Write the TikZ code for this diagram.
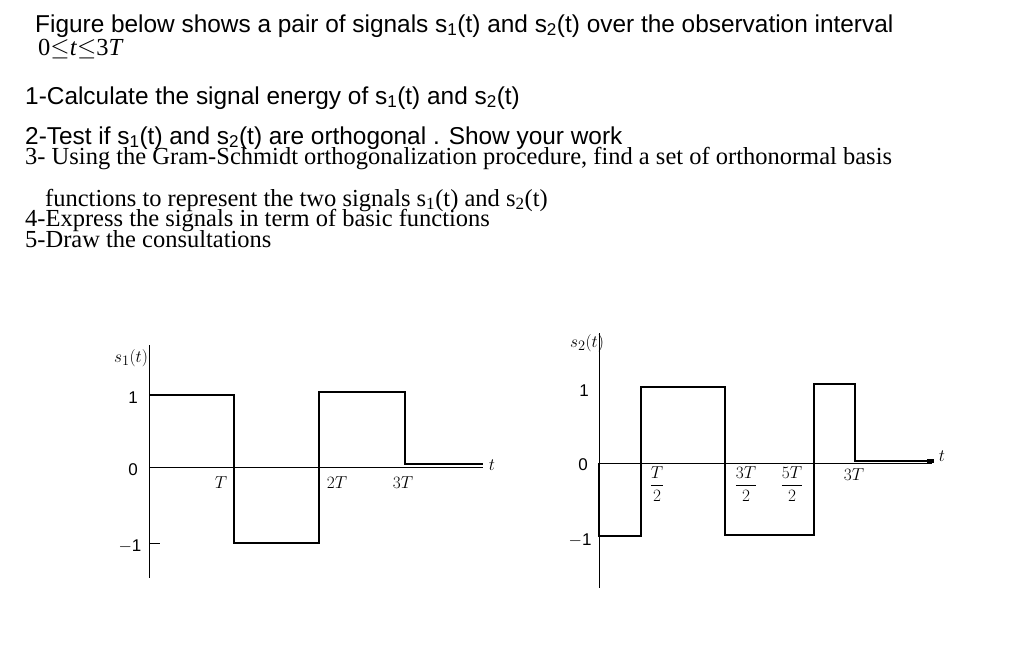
\documentclass[tikz,border=0pt]{standalone}
\usepackage{fontspec}
\usepackage{amsmath}
\setmainfont{Liberation Serif}
\newfontfamily\arial{Liberation Sans}
\begin{document}
\begin{tikzpicture}[x=1pt,y=-1pt,
  sig/.style={line width=2pt},
  ax/.style={line width=0.9pt},
  zl/.style={line width=0.8pt},
  lab/.style={font=\arial\fontsize{17}{17}\selectfont},
  tl/.style={font=\fontsize{19}{19}\selectfont},
  sl/.style={anchor=base west,font=\arial\fontsize{24.4}{21}\selectfont,inner sep=0},
  rl/.style={anchor=base west,font=\fontsize{24.5}{18}\selectfont,inner sep=0}]
\useasboundingbox (0,0) rectangle (1024,649);
% text
\node[sl] (l1) at (35,32) {Figure below shows a pair of signals s\textsubscript{1}(t) and s\textsubscript{2}(t) over the observation interval};
\node[rl] (l2) at (38,55) {0$\le$\textit{t}$\le$3\textit{T}};
\node[sl] (l3) at (25,104) {1-Calculate the signal energy of s\textsubscript{1}(t) and s\textsubscript{2}(t)};
\node[sl] (l4) at (25,144) {2-Test if s\textsubscript{1}(t) and s\textsubscript{2}(t) are orthogonal . Show your work};
\node[rl] (l5) at (25,164) {3- Using the Gram-Schmidt orthogonalization procedure, find a set of orthonormal basis};
\node[rl] (l6) at (45,206) {functions to represent the two signals s\textsubscript{1}(t) and s\textsubscript{2}(t)};
\node[rl] (l7) at (25,226) {4-Express the signals in term of basic functions};
\node[rl] (l8) at (25,247) {5-Draw the consultations};
% plot 1
\draw[ax] (149,345) -- (149,578);
\draw[zl] (149,467) -- (483,467);
\draw[ax] (149,543) -- (160,543);
\draw[sig] (149,395) -- (234,395) -- (234,543) -- (319,543) -- (319,392) -- (405,392) -- (405,464) -- (483,464);
\node[tl] (s1) at (131,358) {$s_1(t)$};
\node[lab] (a1) at (133,398) {1};
\node[lab] (a0) at (133,470) {0};
\node[lab] (am) at (130,546) {$-$1};
\node[tl] (tT) at (221,483) {$T$};
\node[tl] (t2T) at (337,483) {$2T$};
\node[tl] (t3T) at (403,483) {$3T$};
\node[tl] (t1) at (492,465) {$t$};
% plot 2
\draw[ax] (599,333) -- (599,588);
\draw[zl] (599,463) -- (932,463);
\draw[sig] (599,463) -- (599,536) -- (641,536) -- (641,387) -- (725,387) -- (725,535) -- (814,535) -- (814,384) -- (855,384) -- (855,461) -- (932,461);
\fill (927,459) rectangle (934,463);
\node[tl] (s2) at (587,343) {$s_2(t)$};
\node[lab] (b1) at (584,391) {1};
\node[lab] (b0) at (583,465) {0};
\node[lab] (bm) at (580,540) {$-$1};
\node[tl] (f1) at (657,484) {$\dfrac{T}{2}$};
\node[tl] (f3) at (746,484) {$\dfrac{3T}{2}$};
\node[tl] (f5) at (792,484) {$\dfrac{5T}{2}$};
\node[tl] (f6) at (854,475) {$3T$};
\node[tl] (t2) at (942,456) {$t$};
\end{tikzpicture}
\end{document}
